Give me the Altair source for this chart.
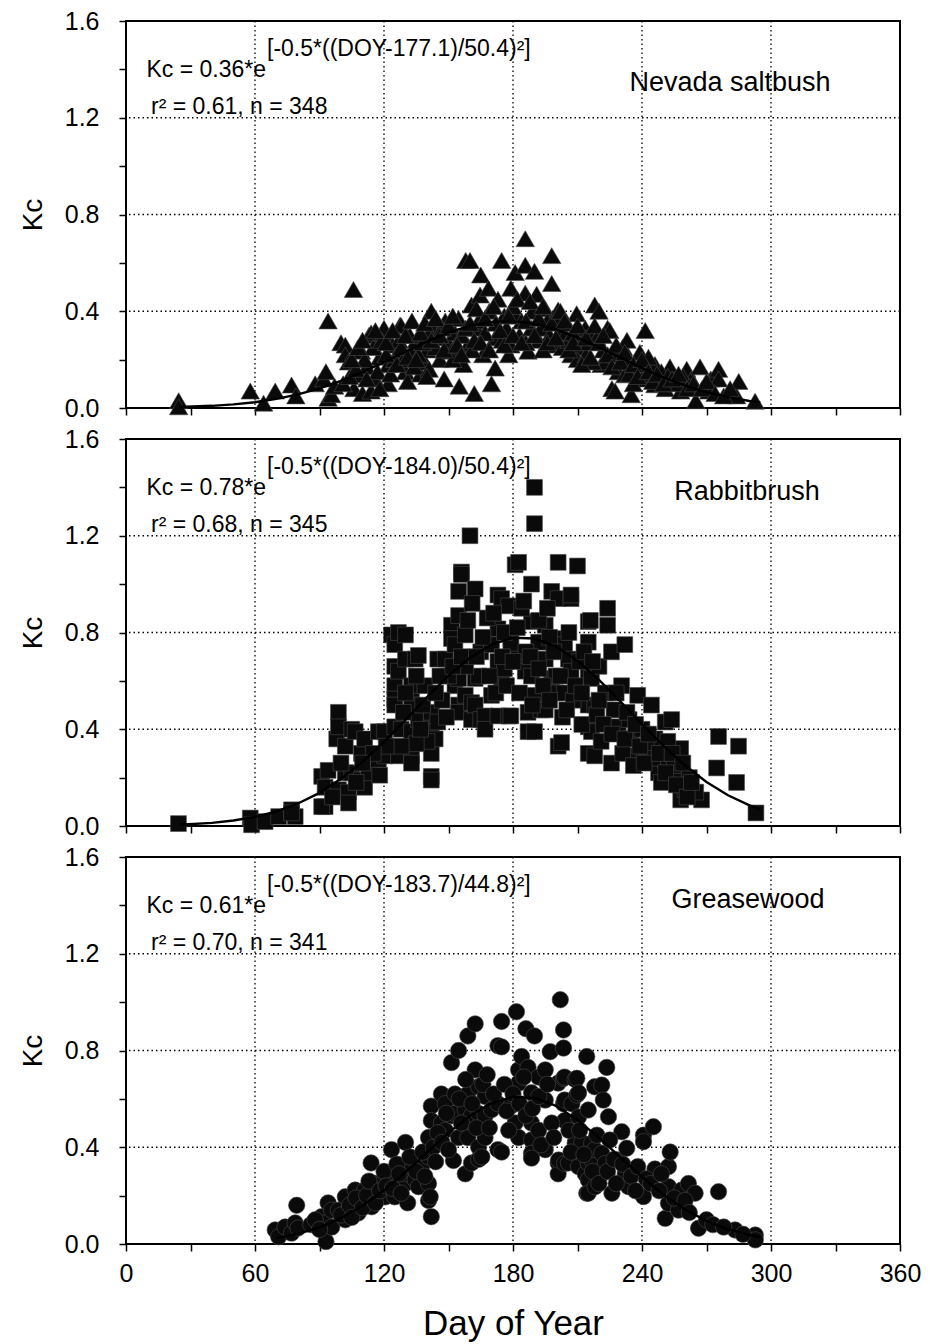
import altair as alt
import pandas as pd

# ---------------- data ----------------
# Nevada saltbush (triangles)
ns_day = [24.5, 24.5, 57.8, 64, 69.4, 77, 79, 88, 92, 93, 94, 94, 95.6, 97, 100, 102, 102, 103.5,
          105.8, 106, 108, 109.5, 110, 112, 113, 114, 114, 116, 118, 120, 120, 122, 122, 124, 126.7,
          127.5, 128, 130, 131, 133, 135, 137, 139, 140, 142, 143, 145, 146, 148, 148.5, 150, 151.4,
          153, 154.7, 155, 157, 158, 159, 160, 160.7, 162, 163, 164.7, 165, 166, 168.6, 170, 171.7,
          171.7, 174.7, 176, 178, 179, 179, 181, 181, 183, 185.7, 185.7, 185.7, 187, 188.6, 190, 192,
          195, 196, 198, 198, 199.6, 201, 202.6, 204, 207, 209.6, 211, 212, 213.6, 216, 218, 220, 221,
          222, 223, 224, 225, 226, 227.5, 229, 231, 231.4, 232, 234, 235, 237, 240, 241.5, 242, 244,
          246, 246, 248, 250.8, 253, 255, 258, 260.8, 263, 265, 267, 271, 272, 275.6, 275.6, 284, 285,
          292.6,
          125, 132, 136, 141, 144, 147, 152, 156, 161, 164, 167, 169, 172, 173, 175, 177, 180, 184,
          186, 189, 191, 193, 194, 197, 200, 203, 205, 206, 208, 210, 214, 215, 217, 219, 228, 233,
          236, 239, 243, 249, 252, 256, 259, 262,
          101, 104, 107, 111, 115, 117, 119, 121, 123, 127, 129, 134, 138, 141,
          105, 108, 110, 112, 116, 118, 121, 124, 126, 128, 130, 131, 133, 135, 137, 139, 140, 142,
          144, 146, 148, 150, 152, 154, 156, 158, 160, 162, 163, 165, 167, 169, 171, 174, 176, 178,
          180, 182, 184, 186, 188, 190, 192, 194, 196, 198, 200, 202, 204, 206, 208, 210, 212, 214,
          216, 218, 220, 222, 224, 226, 228, 230, 232, 234, 236, 238, 240, 243, 245, 247, 250, 254,
          257, 261, 264, 268, 270, 274, 278, 281]
ns_kc = [0.03, 0.005, 0.07, 0.02, 0.07, 0.095, 0.05, 0.10, 0.12, 0.15, 0.04, 0.36, 0.055, 0.09, 0.27,
         0.26, 0.22, 0.19, 0.49, 0.08, 0.137, 0.235, 0.06, 0.17, 0.30, 0.31, 0.07, 0.12, 0.21, 0.31,
         0.33, 0.18, 0.10, 0.26, 0.235, 0.343, 0.34, 0.15, 0.11, 0.235, 0.28, 0.14, 0.19, 0.24, 0.40,
         0.33, 0.29, 0.20, 0.12, 0.36, 0.27, 0.235, 0.31, 0.37, 0.09, 0.18, 0.61, 0.26, 0.61, 0.426,
         0.06, 0.33, 0.467, 0.55, 0.22, 0.495, 0.10, 0.29, 0.165, 0.61, 0.38, 0.22, 0.495, 0.26, 0.56,
         0.385, 0.30, 0.70, 0.59, 0.475, 0.235, 0.33, 0.565, 0.28, 0.41, 0.36, 0.63, 0.515, 0.26,
         0.405, 0.33, 0.30, 0.22, 0.39, 0.25, 0.275, 0.33, 0.30, 0.426, 0.40, 0.18, 0.24, 0.19, 0.33,
         0.32, 0.08, 0.07, 0.15, 0.25, 0.25, 0.137, 0.20, 0.055, 0.16, 0.12, 0.32, 0.18, 0.14, 0.18,
         0.096, 0.12, 0.08, 0.17, 0.117, 0.07, 0.16, 0.12, 0.03, 0.17, 0.07, 0.12, 0.16, 0.12, 0.05,
         0.11, 0.028,
         0.20, 0.30, 0.22, 0.31, 0.25, 0.33, 0.20, 0.30, 0.24, 0.36, 0.31, 0.40, 0.35, 0.45, 0.28,
         0.33, 0.42, 0.36, 0.27, 0.40, 0.47, 0.33, 0.24, 0.30, 0.37, 0.25, 0.35, 0.28, 0.31, 0.20,
         0.22, 0.27, 0.19, 0.29, 0.22, 0.28, 0.10, 0.23, 0.21, 0.15, 0.13, 0.10, 0.13, 0.09,
         0.10, 0.13, 0.16, 0.20, 0.25, 0.15, 0.28, 0.22, 0.14, 0.28, 0.20, 0.17, 0.27, 0.16,
         0.20, 0.25, 0.28, 0.12, 0.32, 0.08, 0.27, 0.32, 0.18, 0.25, 0.30, 0.21, 0.36, 0.20, 0.31,
         0.35, 0.13, 0.28, 0.37, 0.30, 0.24, 0.34, 0.38, 0.26, 0.22, 0.33, 0.35, 0.28, 0.41, 0.27,
         0.37, 0.24, 0.42, 0.32, 0.26, 0.38, 0.30, 0.45, 0.27, 0.36, 0.44, 0.30, 0.37, 0.42, 0.27,
         0.35, 0.29, 0.40, 0.36, 0.24, 0.27, 0.34, 0.18, 0.29, 0.21, 0.34, 0.27, 0.30, 0.22, 0.17,
         0.26, 0.19, 0.23, 0.14, 0.18, 0.13, 0.20, 0.15, 0.11, 0.14, 0.10, 0.12, 0.14, 0.08, 0.10,
         0.08, 0.11, 0.06, 0.05, 0.08]

# Rabbitbrush (squares)
rb_day = [24.4, 57.8, 58.4, 64.7, 71, 77, 78.7, 77, 91, 92.6, 91, 92.6, 94, 98, 98.8, 98.8, 98.8, 102,
          102, 103.5, 103.5, 105, 105, 106.6, 109.5, 109.5, 111, 111, 112.8, 117.4, 117.4, 120.3,
          120.3, 123.5, 125, 125, 125, 125, 125, 125, 126.7, 126.7, 126.7, 128, 130, 130, 132.8,
          132.8, 132.8, 132.8, 132.8, 132.8, 134.5, 136, 136, 139, 142, 142, 142, 142, 142, 142,
          143.8, 145, 148.5, 151.4, 151.4, 153, 153, 154.7, 154.7, 154.7, 154.7, 154.7, 156, 156,
          157.8, 157.8, 160, 160.7, 160.7, 162.4, 162.4, 162.4, 164, 165, 165, 167, 167, 170, 173,
          173, 173, 173, 174.7, 174.7, 176, 178, 178, 179, 179, 179, 181, 182.6, 182.6, 185.7, 187,
          187, 188.6, 188.6, 188.6, 190, 190, 190, 190, 191.9, 193, 195, 195, 195, 198, 198, 199.6,
          201, 201, 201, 201, 202.6, 204, 204, 205.8, 207, 207, 207, 210, 215, 215, 215, 215, 215,
          215, 216, 216.5, 216.5, 218, 218, 220, 224, 224, 225.8, 225.8, 229, 230.5, 232, 235, 238,
          238, 244.4, 246, 247.7, 250.8, 250.8, 253.8, 257, 258, 258, 260, 267.7, 274.7, 275.6, 284,
          284.9, 293,
          158, 168, 170, 176, 184, 186, 192, 197, 200, 203, 208, 211, 212, 219, 221, 223, 227, 231,
          234, 236, 240, 242, 245, 249, 252, 255, 262, 265, 150, 147, 145, 138, 140, 135, 129, 128,
          121, 118, 115, 110, 107, 100, 96,
          130, 135, 137, 144, 146, 149, 152, 156, 159, 161, 163, 166, 169, 171, 172, 175, 177, 180,
          182, 183, 185, 188, 189, 192, 194, 196, 197, 199, 202, 205, 206, 209, 212, 213, 217, 220,
          222, 226, 228, 232, 233, 237, 239, 241, 243, 248, 251, 254, 256, 259, 261, 263]
rb_kc = [0.01, 0.033, 0.005, 0.018, 0.039, 0.067, 0.039, 0.054, 0.205, 0.08, 0.08, 0.16, 0.23, 0.36,
         0.47, 0.41, 0.15, 0.33, 0.22, 0.14, 0.095, 0.40, 0.22, 0.39, 0.30, 0.19, 0.36, 0.16, 0.22,
         0.39, 0.275, 0.29, 0.39, 0.79, 0.75, 0.66, 0.58, 0.525, 0.50, 0.41, 0.80, 0.64, 0.29, 0.40,
         0.69, 0.79, 0.55, 0.58, 0.50, 0.39, 0.29, 0.26, 0.69, 0.44, 0.705, 0.58, 0.455, 0.47, 0.39,
         0.30, 0.205, 0.19, 0.36, 0.69, 0.69, 0.83, 0.775, 0.75, 0.58, 0.97, 0.87, 0.61, 0.50, 0.47,
         1.05, 1.04, 0.79, 0.54, 1.20, 0.51, 0.44, 0.98, 0.61, 0.50, 0.62, 0.72, 0.44, 0.455, 0.40,
         0.54, 0.815, 0.68, 0.955, 0.455, 0.94, 0.61, 0.65, 0.91, 0.455, 0.775, 0.75, 0.455, 1.08,
         1.09, 0.69, 0.64, 0.47, 0.39, 1.0, 0.845, 0.62, 1.40, 1.25, 0.54, 0.39, 0.76, 0.48, 0.69,
         0.83, 0.48, 0.97, 0.61, 0.55, 1.09, 0.775, 0.94, 0.33, 0.345, 0.55, 0.75, 0.69, 0.94, 0.955,
         0.64, 1.075, 0.845, 0.76, 0.62, 0.50, 0.41, 0.30, 0.85, 0.61, 0.39, 0.50, 0.29, 0.66, 0.90,
         0.83, 0.72, 0.26, 0.41, 0.58, 0.75, 0.36, 0.54, 0.29, 0.50, 0.36, 0.22, 0.43, 0.275, 0.44,
         0.22, 0.32, 0.108, 0.15, 0.108, 0.24, 0.37, 0.18, 0.33, 0.054,
         0.66, 0.86, 0.75, 0.80, 0.90, 0.72, 0.85, 0.78, 0.62, 0.45, 0.52, 0.68, 0.42, 0.46, 0.35,
         0.55, 0.48, 0.30, 0.44, 0.25, 0.40, 0.33, 0.28, 0.18, 0.35, 0.25, 0.20, 0.14, 0.62, 0.52,
         0.43, 0.50, 0.35, 0.34, 0.47, 0.33, 0.33, 0.21, 0.30, 0.26, 0.18, 0.26, 0.12,
         0.55, 0.62, 0.40, 0.55, 0.62, 0.45, 0.66, 0.70, 0.85, 0.92, 0.70, 0.78, 0.62, 0.88, 0.55,
         0.70, 0.58, 0.68, 0.82, 0.55, 0.93, 0.70, 0.50, 0.65, 0.58, 0.90, 0.52, 0.72, 0.62, 0.48,
         0.80, 0.58, 0.55, 0.72, 0.68, 0.52, 0.42, 0.38, 0.55, 0.36, 0.47, 0.42, 0.33, 0.26, 0.38,
         0.30, 0.22, 0.30, 0.17, 0.26, 0.12, 0.18]

# Greasewood (circles)
gw_day = [69.4, 71, 74, 77, 78.7, 80, 79.4, 91, 92.6, 93, 94, 95.6, 95.7, 98.8, 102, 102, 102, 106.6,
          108, 109.5, 111, 114, 114.3, 115.9, 117.4, 119, 120.6, 122, 123.5, 125, 125, 129.9, 130,
          131, 131, 133, 134.5, 136, 137.5, 140.7, 140.7, 140.7, 140.7, 141.5, 142, 142, 142, 146.7,
          146.7, 148.5, 148.5, 151.4, 151.4, 152.3, 153, 153, 154.7, 154.7, 157.8, 157.8, 159, 159,
          159, 159, 160.7, 160.7, 162.4, 162.4, 164, 164, 164, 164, 165.5, 167, 167, 167, 170, 173,
          173, 173, 174.7, 174.7, 174.7, 179, 181, 181.6, 182.6, 182.6, 182.6, 184, 186, 187, 188.6,
          188.6, 188.6, 188.6, 188.6, 190, 191.9, 191.9, 195, 195, 195, 197.3, 201, 201, 201, 201.2,
          202, 203.5, 203.5, 203.5, 203.5, 204, 204, 204, 204, 205.8, 207.4, 208.9, 209, 209, 209.7,
          209.7, 210.5, 210.5, 210.5, 212, 213.6, 214.3, 214.3, 215, 215, 215, 215, 216.6, 216.6,
          218, 218, 218.2, 221.3, 221.3, 221.3, 222, 222.9, 223.6, 224.4, 226, 229, 230.6, 232.2,
          232.9, 233.7, 240.7, 240.7, 240.7, 245.3, 246, 250.8, 252.3, 252.3, 252.3, 253.1, 257,
          258.5, 261.6, 264.7, 266.3, 275.6, 283.3, 292.7, 292.7, 86, 88, 90,
          100, 104, 105, 107, 110, 112, 113, 116, 118, 120, 121, 124, 126, 127, 128, 132, 135, 138,
          139, 143, 144, 145, 147, 149, 150, 155, 156, 158, 161, 163, 166, 168, 169, 171, 176, 177,
          178, 180, 183, 185, 186, 189, 192, 193, 196, 198, 199, 206, 207, 211, 213, 217, 219, 220,
          224, 225, 227, 228, 231, 235, 237, 238, 242, 244, 248, 249, 255, 260, 262, 270, 273, 278,
          287]
gw_kc = [0.058, 0.03, 0.07, 0.045, 0.087, 0.066, 0.16, 0.113, 0.087, 0.01, 0.17, 0.14, 0.07, 0.14,
         0.195, 0.128, 0.10, 0.223, 0.128, 0.17, 0.223, 0.335, 0.154, 0.25, 0.196, 0.25, 0.195, 0.278,
         0.39, 0.278, 0.195, 0.25, 0.42, 0.29, 0.17, 0.32, 0.265, 0.237, 0.32, 0.44, 0.36, 0.25, 0.18,
         0.195, 0.57, 0.51, 0.113, 0.62, 0.50, 0.58, 0.47, 0.75, 0.53, 0.345, 0.62, 0.54, 0.80, 0.44,
         0.555, 0.29, 0.86, 0.62, 0.50, 0.44, 0.53, 0.335, 0.91, 0.72, 0.65, 0.54, 0.40, 0.35, 0.36,
         0.61, 0.53, 0.44, 0.555, 0.82, 0.58, 0.39, 0.92, 0.815, 0.38, 0.57, 0.50, 0.96, 0.72, 0.665,
         0.44, 0.775, 0.89, 0.73, 0.625, 0.50, 0.43, 0.375, 0.355, 0.86, 0.69, 0.47, 0.72, 0.595,
         0.39, 0.795, 0.665, 0.335, 0.29, 0.347, 1.01, 0.885, 0.81, 0.685, 0.58, 0.69, 0.595, 0.51,
         0.333, 0.335, 0.58, 0.68, 0.42, 0.416, 0.685, 0.616, 0.625, 0.525, 0.32, 0.42, 0.29, 0.775,
         0.21, 0.554, 0.335, 0.265, 0.21, 0.416, 0.347, 0.65, 0.39, 0.237, 0.657, 0.375, 0.29, 0.595,
         0.333, 0.73, 0.526, 0.21, 0.347, 0.464, 0.29, 0.396, 0.237, 0.45, 0.423, 0.196, 0.485, 0.31,
         0.106, 0.32, 0.237, 0.168, 0.38, 0.14, 0.223, 0.25, 0.21, 0.065, 0.216, 0.058, 0.037, 0.017,
         0.08, 0.10, 0.06,
         0.12, 0.16, 0.11, 0.19, 0.15, 0.20, 0.26, 0.17, 0.22, 0.30, 0.24, 0.23, 0.33, 0.29, 0.21,
         0.36, 0.30, 0.38, 0.28, 0.40, 0.34, 0.46, 0.42, 0.54, 0.39, 0.60, 0.50, 0.68, 0.58, 0.48,
         0.66, 0.70, 0.48, 0.62, 0.66, 0.55, 0.47, 0.62, 0.58, 0.69, 0.53, 0.56, 0.61, 0.41, 0.66,
         0.50, 0.44, 0.47, 0.38, 0.47, 0.37, 0.30, 0.45, 0.25, 0.30, 0.43, 0.35, 0.25, 0.33, 0.28,
         0.22, 0.32, 0.27, 0.25, 0.22, 0.29, 0.19, 0.18, 0.13, 0.10, 0.08, 0.07, 0.04]

# fitted curves
fit_day = [25, 40, 50, 60, 70, 80, 90, 100, 110, 120, 130, 140, 150, 160, 170, 180, 190, 200, 210,
           220, 230, 240, 250, 260, 270, 280, 290, 295]
ns_fit = [0.004, 0.009, 0.015, 0.024, 0.038, 0.056, 0.081, 0.112, 0.148, 0.190, 0.233, 0.275, 0.312,
          0.340, 0.356, 0.359, 0.348, 0.325, 0.291, 0.251, 0.208, 0.165, 0.127, 0.093, 0.066, 0.045,
          0.029, 0.023]
rb_fit = [0.005, 0.013, 0.023, 0.038, 0.060, 0.093, 0.137, 0.195, 0.265, 0.348, 0.439, 0.533, 0.621,
          0.696, 0.750, 0.778, 0.775, 0.742, 0.683, 0.604, 0.514, 0.421, 0.331, 0.250, 0.182, 0.127,
          0.085, 0.069]
gw_fit_day = [70, 80, 90, 100, 110, 120, 130, 140, 150, 160, 170, 180, 190, 200, 210, 220, 230, 240,
              250, 260, 270, 280, 290, 295]
gw_fit = [0.024, 0.042, 0.069, 0.107, 0.158, 0.222, 0.297, 0.379, 0.460, 0.530, 0.582, 0.608, 0.604,
          0.571, 0.513, 0.439, 0.358, 0.277, 0.204, 0.143, 0.095, 0.061, 0.037, 0.028]

grid_x = [60, 120, 180, 240, 300]
grid_y = [0.4, 0.8, 1.2]
x_ticks = [0, 30, 60, 90, 120, 150, 180, 210, 240, 270, 300, 330, 360]
y_ticks = [0.0, 0.2, 0.4, 0.6, 0.8, 1.0, 1.2, 1.4, 1.6]

eq_main = ["Kc = 0.36*e", "Kc = 0.78*e", "Kc = 0.61*e"]
eq_sup = ["[-0.5*((DOY-177.1)/50.4)²]", "[-0.5*((DOY-184.0)/50.4)²]", "[-0.5*((DOY-183.7)/44.8)²]"]
eq_stats = ["r² = 0.61, n = 348", "r² = 0.68, n = 345", "r² = 0.70, n = 341"]
species = ["Nevada saltbush", "Rabbitbrush", "Greasewood"]

# ---------------- chart ----------------
FONT = "Liberation Sans, Arial, Helvetica, sans-serif"
W, H = 774, 387
xs = alt.Scale(domain=[0, 360], nice=False, zero=False)
ys = alt.Scale(domain=[0, 1.6], nice=False)


def text_layer(txt, x, y, align, size, baseline="alphabetic"):
    return alt.Chart(pd.DataFrame({"t": [txt]})).mark_text(
        align=align, baseline=baseline, font=FONT, fontSize=size, color="black"
    ).encode(text="t:N", x=alt.value(x), y=alt.value(y))


def panel(i, days, kcs, shape, size, fdays, fvals, name_xy, bottom):
    xaxis_kw = dict(values=x_ticks, grid=False, labelFlush=False, tickSize=7,
                    labelExpr="datum.value % 60 == 0 ? datum.label : ''")
    if bottom:
        xaxis_kw.update(labels=True, title="Day of Year")
    else:
        xaxis_kw.update(labels=False, title=None)
    xaxis = alt.Axis(**xaxis_kw)
    yaxis = alt.Axis(values=y_ticks, grid=False, labelFlush=False, tickSize=7, title="Kc",
                     labelExpr="round(datum.value*10) % 4 == 0 ? format(datum.value, '.1f') : ''")

    gv = alt.Chart(pd.DataFrame({"g": grid_x})).mark_rule(
        strokeDash=[1.5, 3], color="black", strokeWidth=1.3
    ).encode(x=alt.X("g:Q", scale=xs, axis=xaxis))
    gh = alt.Chart(pd.DataFrame({"g": grid_y})).mark_rule(
        strokeDash=[1.5, 3], color="black", strokeWidth=1.3
    ).encode(y=alt.Y("g:Q", scale=ys, axis=yaxis))

    pts = alt.Chart(pd.DataFrame({"day": days, "kc": kcs})).mark_point(
        shape=shape, filled=True, size=size, fill="#0a0a0a", stroke="#4a4a4a", strokeWidth=0.6, opacity=1
    ).encode(
        x=alt.X("day:Q", scale=xs, axis=xaxis),
        y=alt.Y("kc:Q", scale=ys, axis=yaxis),
    )
    fit = alt.Chart(pd.DataFrame({"day": fdays, "kc": fvals})).mark_line(
        color="black", strokeWidth=2.4
    ).encode(x=alt.X("day:Q", scale=xs, axis=xaxis), y=alt.Y("kc:Q", scale=ys, axis=yaxis))

    t1 = text_layer(eq_main[i], 140, 56, "right", 23)
    t2 = text_layer(eq_sup[i], 141, 35, "left", 23)
    t3 = text_layer(eq_stats[i], 25, 93, "left", 23)
    t4 = text_layer(species[i], name_xy[0], name_xy[1], "center", 27, "middle")

    return alt.layer(gv, gh, pts, fit, t1, t2, t3, t4).properties(width=W, height=H)


p1 = panel(0, ns_day, ns_kc, "triangle-up", 340, fit_day, ns_fit, (604, 62), False)
p2 = panel(1, rb_day, rb_kc, "square", 250, fit_day, rb_fit, (621, 53), False)
p3 = panel(2, gw_day, gw_kc, "circle", 270, gw_fit_day, gw_fit, (622, 43), True)

chart = alt.vconcat(p1, p2, p3, spacing=31, bounds="flush").properties(
    padding={"left": 10, "top": 0, "right": 0, "bottom": 0}
).configure_view(
    stroke="black", strokeWidth=2
).configure_axis(
    domain=False, tickColor="black", tickWidth=1.5,
    labelFont=FONT, labelFontSize=25, labelColor="black", labelPadding=20,
    titleFont=FONT, titleFontSize=28, titleFontWeight="normal", titleColor="black",
).configure_axisX(
    labelPadding=10, titlePadding=20, titleFontSize=35
).configure_axisY(
    titlePadding=17
)

chart.save("out.html", embed_options={"renderer": "svg", "actions": False})
